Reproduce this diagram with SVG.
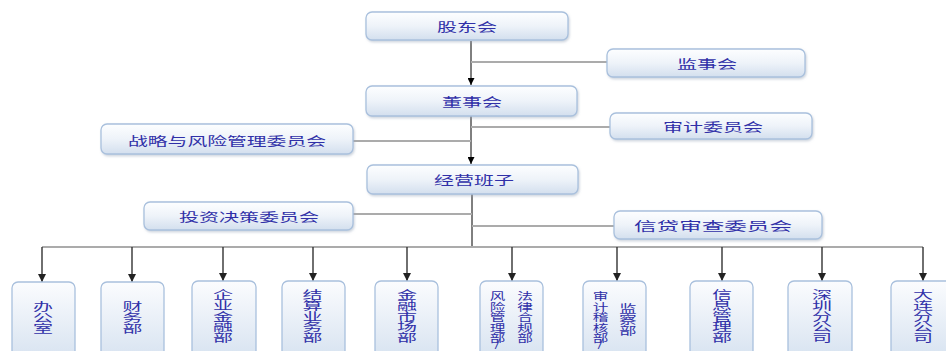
<svg xmlns="http://www.w3.org/2000/svg" width="946" height="351" viewBox="0 0 946 351">
<defs>
<linearGradient id="g" x1="0" y1="0" x2="0" y2="1">
<stop offset="0" stop-color="#fdfeff"/>
<stop offset="0.5" stop-color="#eef3f9"/>
<stop offset="1" stop-color="#d3dfee"/>
</linearGradient>
<linearGradient id="gv" x1="0" y1="0" x2="0" y2="1">
<stop offset="0" stop-color="#fbfcfe"/>
<stop offset="1" stop-color="#d6e2f0"/>
</linearGradient>
<filter id="sh" x="-10%" y="-20%" width="120%" height="150%">
<feDropShadow dx="1" dy="1.5" stdDeviation="1" flood-color="#9aa8bb" flood-opacity="0.5"/>
</filter>
<marker id="a" viewBox="0 0 10 10" refX="10" refY="5" markerWidth="7" markerHeight="7" markerUnits="userSpaceOnUse" orient="auto">
<path d="M0,0 L10,5 L0,10 z" fill="#000"/>
</marker>
<marker id="b" viewBox="0 0 10 10" refX="10" refY="5" markerWidth="8" markerHeight="8" markerUnits="userSpaceOnUse" orient="auto">
<path d="M0,0 L10,5 L0,10 z" fill="#222"/>
</marker>
</defs>
<style>
.box{fill:url(#g);stroke:#a9c0dd;stroke-width:1.3;filter:url(#sh)}
.vbox{fill:url(#gv);stroke:#a9c0dd;stroke-width:1.3}
.t{font-family:"Noto Sans CJK SC","Noto Sans",sans-serif;font-size:12.5px;fill:#3030a8;text-anchor:middle;dominant-baseline:central}
.v{font-family:"Noto Sans CJK SC","Noto Sans",sans-serif;font-size:10.8px;fill:#3030a8;writing-mode:vertical-rl;text-orientation:upright;letter-spacing:-0.2px}
.main{stroke:#000;stroke-width:1;fill:none}
.side{stroke:#ababab;stroke-width:2;fill:none}
.drop{stroke:#333;stroke-width:1.4;fill:none}
</style>

<g id="connectors">
<line class="main" x1="471" y1="41" x2="471" y2="85" marker-end="url(#a)"/>
<line class="side" x1="471" y1="62" x2="607" y2="62"/>
<line class="main" x1="471" y1="116" x2="471" y2="164" marker-end="url(#a)"/>
<line class="side" x1="471" y1="127" x2="610" y2="127"/>
<line class="side" x1="353" y1="141" x2="471" y2="141"/>
<line class="main" x1="472" y1="194" x2="472" y2="247"/>
<line class="side" x1="353" y1="214" x2="472" y2="214"/>
<line class="side" x1="472" y1="226" x2="614" y2="226"/>
<polyline class="side" points="42,247 923,247"/>
<line class="drop" x1="42" y1="247" x2="42" y2="282" marker-end="url(#b)"/>
<line class="drop" x1="132" y1="247" x2="132" y2="282" marker-end="url(#b)"/>
<line class="drop" x1="223" y1="247" x2="223" y2="281" marker-end="url(#b)"/>
<line class="drop" x1="313" y1="247" x2="313" y2="281" marker-end="url(#b)"/>
<line class="drop" x1="407" y1="247" x2="407" y2="281" marker-end="url(#b)"/>
<line class="drop" x1="512" y1="247" x2="512" y2="281" marker-end="url(#b)"/>
<line class="drop" x1="617" y1="247" x2="617" y2="281" marker-end="url(#b)"/>
<line class="drop" x1="722" y1="247" x2="722" y2="281" marker-end="url(#b)"/>
<line class="drop" x1="822" y1="247" x2="822" y2="281" marker-end="url(#b)"/>
<line class="drop" x1="923" y1="247" x2="923" y2="281" marker-end="url(#b)"/>
</g>

<g id="n-gudonghui"><rect class="box" x="366" y="12" width="202" height="28" rx="6"/><text class="t" x="467" y="26.5" textLength="60" lengthAdjust="spacingAndGlyphs">股东会</text></g>
<g id="n-jianshihui"><rect class="box" x="607" y="49" width="198" height="28" rx="6"/><text class="t" x="707" y="63" textLength="60" lengthAdjust="spacingAndGlyphs">监事会</text></g>
<g id="n-dongshihui"><rect class="box" x="366" y="86" width="211" height="30" rx="6"/><text class="t" x="472" y="101" textLength="60" lengthAdjust="spacingAndGlyphs">董事会</text></g>
<g id="n-shenji"><rect class="box" x="610" y="113" width="202" height="26" rx="6"/><text class="t" x="713" y="126" textLength="100" lengthAdjust="spacingAndGlyphs">审计委员会</text></g>
<g id="n-zhanlue"><rect class="box" x="101" y="124" width="252" height="30" rx="6"/><text class="t" x="227" y="140" textLength="198" lengthAdjust="spacingAndGlyphs">战略与风险管理委员会</text></g>
<g id="n-jingying"><rect class="box" x="367" y="165" width="211" height="29" rx="6"/><text class="t" x="474" y="179.5" textLength="80" lengthAdjust="spacingAndGlyphs">经营班子</text></g>
<g id="n-touzi"><rect class="box" x="144" y="202" width="209" height="28" rx="6"/><text class="t" x="249" y="216" textLength="140" lengthAdjust="spacingAndGlyphs">投资决策委员会</text></g>
<g id="n-xindai"><rect class="box" x="614" y="211" width="208" height="28" rx="6"/><text class="t" x="713" y="225" textLength="158" lengthAdjust="spacingAndGlyphs">信贷审查委员会</text></g>

<g id="d1"><rect class="vbox" x="12" y="282" width="63" height="80" rx="6"/>
<text class="v" transform="translate(43 0) scale(1.85 1)" x="0" y="302">办公室</text></g>
<g id="d2"><rect class="vbox" x="101" y="282" width="63" height="80" rx="6"/>
<text class="v" transform="translate(132.5 0) scale(1.85 1)" x="0" y="302">财务部</text></g>
<g id="d3"><rect class="vbox" x="192" y="281" width="64" height="80" rx="6"/>
<text class="v" transform="translate(223 0) scale(1.85 1)" x="0" y="290">企业金融部</text></g>
<g id="d4"><rect class="vbox" x="282" y="281" width="63" height="80" rx="6"/>
<text class="v" transform="translate(312.5 0) scale(1.85 1)" x="0" y="290">结算业务部</text></g>
<g id="d5"><rect class="vbox" x="375" y="281" width="63" height="80" rx="6"/>
<text class="v" transform="translate(407 0) scale(1.85 1)" x="0" y="290">金融市场部</text></g>
<g id="d6"><rect class="vbox" x="480" y="281" width="63" height="80" rx="6"/>
<text class="v" transform="translate(497.5 0) scale(1.45 1)" x="0" y="290.5">风险管理部<tspan dy="-6">/</tspan></text>
<text class="v" transform="translate(525 0) scale(1.45 1)" x="0" y="290.5">法律合规部</text></g>
<g id="d7"><rect class="vbox" x="583" y="281" width="63" height="80" rx="6"/>
<text class="v" transform="translate(600.5 0) scale(1.45 1)" x="0" y="290.5">审计稽核部<tspan dy="-6">/</tspan></text>
<text class="v" transform="translate(628 0) scale(1.6 1)" x="0" y="304">监察部</text></g>
<g id="d8"><rect class="vbox" x="690" y="281" width="63" height="80" rx="6"/>
<text class="v" transform="translate(722 0) scale(1.85 1)" x="0" y="290">信息管理部</text></g>
<g id="d9"><rect class="vbox" x="788" y="281" width="64" height="80" rx="6"/>
<text class="v" transform="translate(822 0) scale(1.85 1)" x="0" y="290">深圳分公司</text></g>
<g id="d10"><rect class="vbox" x="891" y="281" width="64" height="80" rx="6"/>
<text class="v" transform="translate(923 0) scale(1.85 1)" x="0" y="290">大连分公司</text></g>
</svg>
